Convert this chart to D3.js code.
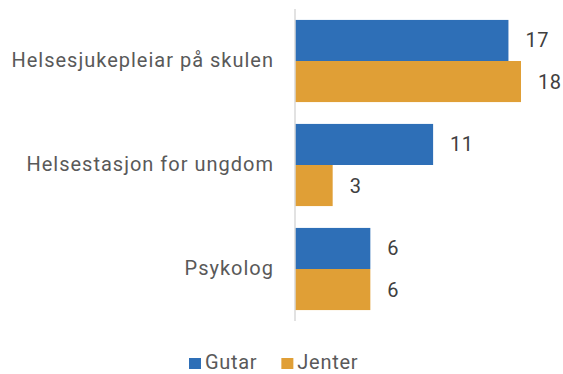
<!DOCTYPE html>
<html>
<head>
<meta charset="utf-8">
<script src="https://cdn.jsdelivr.net/npm/d3@7"></script>
<style>
  html, body { margin: 0; padding: 0; background: #fff; }
  svg { display: block; font-family: Roboto, "Noto Sans", sans-serif; }
</style>
</head>
<body>
<svg id="chart" width="563" height="374"></svg>
<script>
const categories = ["Helsesjukepleiar på skulen", "Helsestasjon for ungdom", "Psykolog"];
const seriesNames = ["Gutar", "Jenter"];
const gutar = [17, 11, 6];
const jenter = [18, 3, 6];
const colors = ["#2E6FB7", "#E09F36"];

const FONT = 20;
const SPACING = 1;

const svg = d3.select("#chart");
const x0 = 295;
const x = d3.scaleLinear().domain([0, 18]).range([x0, x0 + 226]);
const y = d3.scaleBand().domain(categories).range([9, 321]).paddingInner(0.21).paddingOuter(0.105);
const ySub = d3.scaleBand().domain(seriesNames).range([0, y.bandwidth()]);

const rows = categories.map((c, i) => ({ cat: c, vals: [gutar[i], jenter[i]] }));

const g = svg.append("g");
rows.forEach(r => {
  r.vals.forEach((v, j) => {
    g.append("rect")
      .attr("x", x(0))
      .attr("y", y(r.cat) + ySub(seriesNames[j]))
      .attr("width", x(v) - x(0))
      .attr("height", ySub.bandwidth())
      .attr("fill", colors[j]);
    g.append("text")
      .attr("x", x(v) + 17)
      .attr("y", y(r.cat) + ySub(seriesNames[j]) + ySub.bandwidth() / 2)
      .attr("dy", "0.35em")
      .attr("font-size", FONT)
      .attr("letter-spacing", 0.5)
      .attr("fill", "#404040")
      .text(v);
  });
});

// vertical category axis
const axis = svg.append("g").attr("transform", `translate(${x0},0)`)
  .call(d3.axisLeft(y).tickSize(0).tickPadding(21));
axis.select(".domain").attr("stroke", "#d9d9d9").attr("stroke-width", 1.5)
  .attr("d", "M0,9V321");
axis.selectAll("text").attr("font-size", FONT).attr("fill", "#595959")
  .attr("letter-spacing", SPACING)
  .attr("font-family", "Roboto, 'Noto Sans', sans-serif");

// legend
const legend = svg.append("g").attr("transform", "translate(189,362)");
let lx = 0;
seriesNames.forEach((n, j) => {
  const item = legend.append("g").attr("transform", `translate(${lx},0)`);
  item.append("rect").attr("x", 0).attr("y", -4).attr("width", 12).attr("height", 11).attr("fill", colors[j]);
  const t = item.append("text").attr("x", 16).attr("dy", "0.35em")
    .attr("font-size", FONT).attr("letter-spacing", 0.7)
    .attr("fill", "#595959").text(n);
  lx += 16 + t.node().getComputedTextLength() + 24;
});
</script>
</body>
</html>
